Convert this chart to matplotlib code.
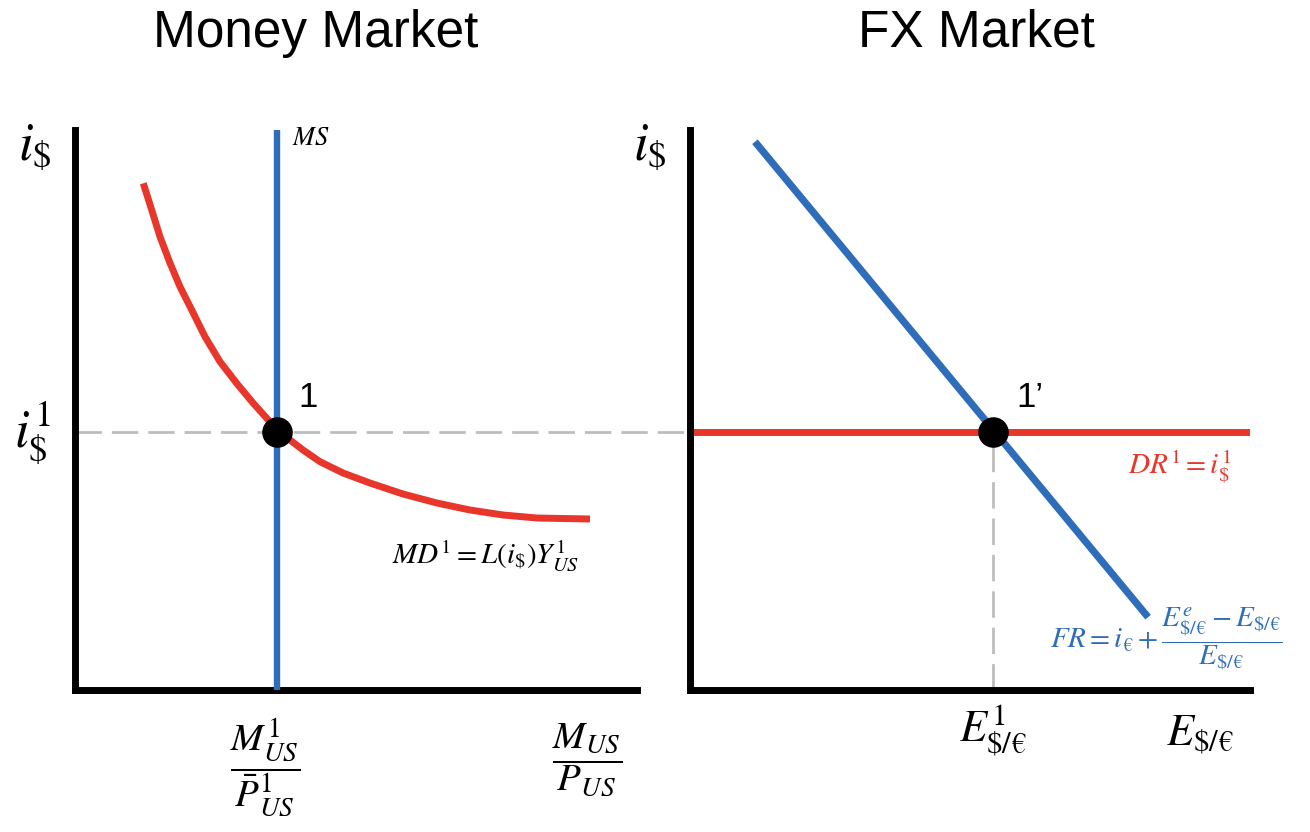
import matplotlib.pyplot as plt

plt.rcParams["mathtext.fontset"] = "stix"
plt.rcParams["font.family"] = ["Liberation Sans", "DejaVu Sans"]

RED = "#E8362A"
BLUE = "#2E6DB9"
GREY = "#BDBDBD"

# ---- money market (axis units 0-10) ----
md_x = [1.215, 1.365, 1.512, 1.690, 1.868, 2.077, 2.313, 2.580, 2.877, 3.173, 3.440, 3.594,
        3.826, 4.057, 4.359, 4.769, 5.249, 5.836, 6.441, 7.028, 7.616, 8.221, 9.164]
md_y = [9.048, 8.571, 8.095, 7.625, 7.202, 6.786, 6.309, 5.863, 5.477, 5.120, 4.821, 4.607,
        4.464, 4.286, 4.077, 3.875, 3.696, 3.500, 3.339, 3.214, 3.125, 3.071, 3.054]
ms_x = 3.594
eq1 = (3.594, 4.607)

# ---- FX market ----
fr_x = [1.16, 8.18]
fr_y = [9.79, 1.30]
dr_y = 4.607
eq2 = (5.41, 4.607)

fig = plt.figure(figsize=(13.1, 8.32), dpi=100)
ax1 = fig.add_axes([75 / 1310, 142 / 832, 562 / 1310, 560 / 832])
ax2 = fig.add_axes([690 / 1310, 142 / 832, 560 / 1310, 560 / 832])

for ax in (ax1, ax2):
    ax.set_xlim(0, 10)
    ax.set_ylim(0, 10)
    ax.set_xticks([])
    ax.set_yticks([])
    for s in ("top", "right"):
        ax.spines[s].set_visible(False)
    for s in ("left", "bottom"):
        ax.spines[s].set_linewidth(5)
        ax.spines[s].set_color("black")
    ax.patch.set_alpha(0)

# left panel
ax1.plot([0, 10.94], [eq1[1], eq1[1]], color=GREY, lw=2, dashes=(9.5, 3.6), clip_on=False, zorder=1)
ax1.plot(md_x, md_y, color=RED, lw=5, solid_capstyle="butt", solid_joinstyle="round", zorder=2)
ax1.plot([ms_x, ms_x], [0, 10], color=BLUE, lw=4.6, solid_capstyle="butt", zorder=3)
ax1.plot(*eq1, "o", color="black", ms=21, zorder=4)

ax1.text(-0.71, 9.7, r"$i_{\$}$", fontsize=38, ha="center", va="center", clip_on=False)
ax1.text(-0.75, 4.6, r"$i_{\$}^{1}$", fontsize=38, ha="center", va="center", clip_on=False)
ax1.text(3.86, 9.86, r"$MS$", fontsize=19, ha="left", va="center")
ax1.text(4.15, 5.23, "1", fontsize=25, ha="center", va="center")
ax1.text(7.3, 2.41, r"$MD^{1} = L(i_{\$})Y_{US}^{1}$", fontsize=21, ha="center", va="center")
ax1.text(3.38, -1.38, r"$\dfrac{M_{US}^{1}}{\bar{P}_{US}^{1}}$", fontsize=28, ha="center", va="center", clip_on=False)
ax1.text(9.11, -1.24, r"$\dfrac{M_{US}}{P_{US}}$", fontsize=28, ha="center", va="center", clip_on=False)

# right panel
ax2.plot([eq2[0], eq2[0]], [0, eq2[1]], color=GREY, lw=2, dashes=(9.5, 3.6), zorder=1)
ax2.plot([0, 10], [dr_y, dr_y], color=RED, lw=5, solid_capstyle="butt", zorder=2)
ax2.plot(fr_x, fr_y, color=BLUE, lw=5.2, solid_capstyle="butt", zorder=3)
ax2.plot(*eq2, "o", color="black", ms=21, zorder=4)

ax2.text(-0.71, 9.7, r"$i_{\$}$", fontsize=38, ha="center", va="center", clip_on=False)
ax2.text(6.07, 5.23, "1\u2019", fontsize=25, ha="center", va="center")
ax2.text(8.75, 4.0, r"$DR^{1} = i_{\$}^{1}$", fontsize=21, color=RED, ha="center", va="center")
ax2.text(8.5, 0.92, r"$FR = i_{€} + \dfrac{E_{\$/€}^{e} - E_{\$/€}}{E_{\$/€}}$",
         fontsize=21, color=BLUE, ha="center", va="center", clip_on=False)
ax2.text(5.41, -0.72, r"$E_{\$/€}^{1}$", fontsize=32, ha="center", va="center", clip_on=False)
ax2.text(9.11, -0.80, r"$E_{\$/€}$", fontsize=32, ha="center", va="center", clip_on=False)

fig.text(316 / 1310, 1 - 33 / 832, "Money Market", fontsize=37, ha="center", va="center")
fig.text(976 / 1310, 1 - 33 / 832, "FX Market", fontsize=37, ha="center", va="center")

fig.savefig("out.png", dpi=100, facecolor="white")
